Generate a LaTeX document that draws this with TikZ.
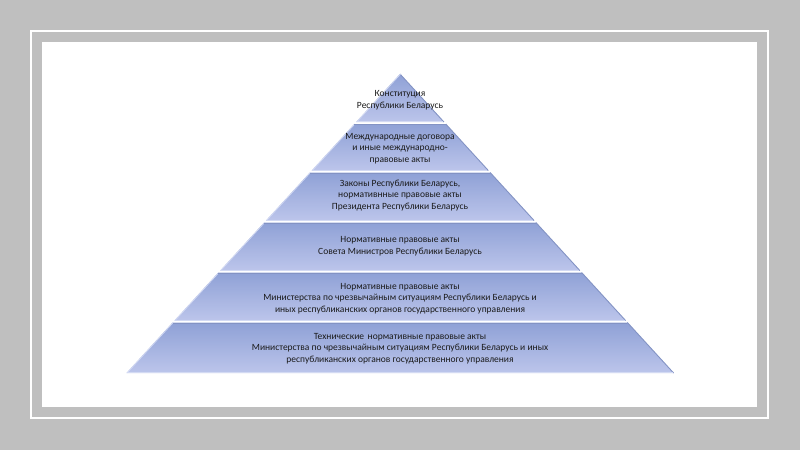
\documentclass[tikz,border=0pt]{standalone}
\usepackage{fontspec}
\setmainfont{Carlito}
\definecolor{bgGray}{HTML}{BFBFBF}
\definecolor{tierTop}{HTML}{8FA1D6}
\definecolor{tierBot}{HTML}{BCC5EB}
\definecolor{edgeDark}{HTML}{8393C4}
\definecolor{edgeLight}{HTML}{D3DAF3}
\definecolor{txt}{HTML}{1A1A1A}
\begin{document}
\begin{tikzpicture}[x=1pt,y=-1pt,
  lbl/.style={align=center,text=txt,inner sep=0pt,font=\fontsize{9.5}{11.6}\selectfont}]
\useasboundingbox (0,0) rectangle (800,450);
\fill[bgGray] (0,0) rectangle (800,450);
\draw[white,line width=2pt] (31,31) rectangle (768,418);
\fill[white] (42,42) rectangle (757,407);
\foreach \yt/\yb in {74/122, 124/170.5, 172.5/220.5, 222.5/270.5, 272.5/320.5, 322.5/373} {
  \pgfmathsetmacro\wt{(\yt-74)*0.915}
  \pgfmathsetmacro\wb{(\yb-74)*0.915}
  \shade[top color=tierTop, bottom color=tierBot]
    (400-\wt,\yt) -- (400+\wt,\yt) -- (400+\wb,\yb) -- (400-\wb,\yb) -- cycle;
  \draw[edgeDark,line width=0.9pt] (400+\wt,\yt) -- (400+\wb,\yb);
  \draw[edgeLight,line width=0.7pt] (400-\wt+0.6,\yt) -- (400-\wb+0.6,\yb);
  \draw[edgeDark,line width=0.8pt] (400-\wt,\yt+0.5) -- (400+\wt,\yt+0.5);
  \draw[edgeLight,line width=0.6pt] (400-\wb+1,\yb-0.4) -- (400+\wb-1,\yb-0.4);
}
\node[lbl] (t1) at (400,100.5) {Конституция\\Республики Беларусь};
\node[lbl] (t2) at (400,148.5) {Международные договора\\и иные международно-\\правовые акты};
\node[lbl] (t3) at (400,195.5) {Законы Республики Беларусь,\\нормативнные правовые акты\\Президента Республики Беларусь};
\node[lbl] (t4) at (400,246.5) {Нормативные правовые акты\\Совета Министров Республики Беларусь};
\node[lbl] (t5) at (400,298.5) {Нормативные правовые акты\\Министерства по чрезвычайным ситуациям Республики Беларусь и\\иных республиканских органов государственного управления};
\node[lbl] (t6) at (400,348.5) {Технические\hspace{0.15em} нормативные правовые акты\\Министерства по чрезвычайным ситуациям Республики Беларусь и иных\\республиканских органов государственного управления};
\end{tikzpicture}
\end{document}
